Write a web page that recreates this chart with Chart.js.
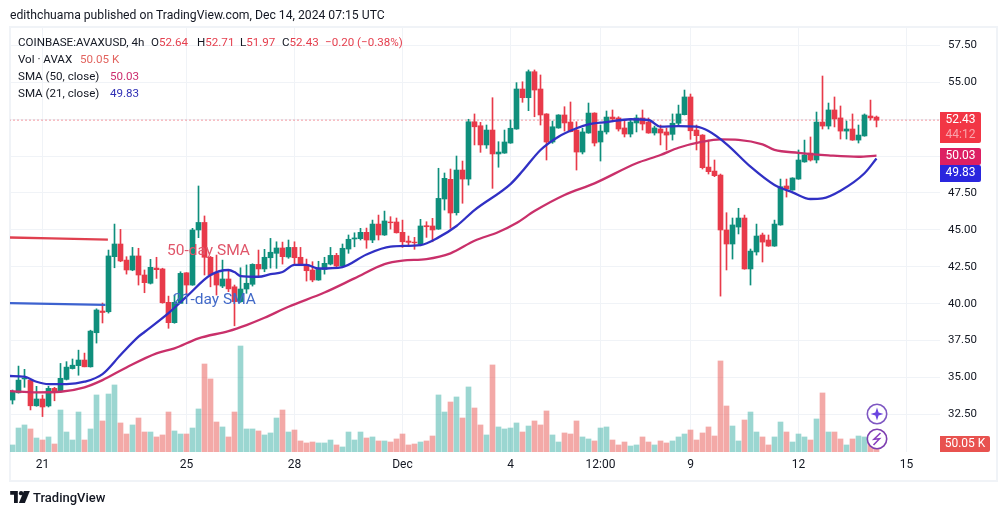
<!DOCTYPE html>
<html>
<head>
<meta charset="utf-8">
<title>AVAXUSD 4h</title>
<script src="https://cdn.jsdelivr.net/npm/chart.js@4"></script>
<style>
  html, body { margin: 0; padding: 0; background: #fff; }
  #wrap { position: relative; width: 1005px; height: 515px; overflow: hidden; font-family: Roboto, sans-serif; color: #131722; }
  #frame { position: absolute; left: 9px; top: 26px; width: 985px; height: 452px; border: 2px solid #f0f3f7; }
  canvas { position: absolute; left: 0; top: 0; }
  .t { position: absolute; white-space: pre; font-size: 11.6px; line-height: 14px; }
  .badge { position: absolute; left: 940px; width: 41px; color: #fff; text-align: center; font-size: 12px; line-height: 15px; border-radius: 0 2px 2px 0; }
  .r { color: #e5404f; }
</style>
</head>
<body>
<div id="wrap">
  <div id="frame"></div>
  <canvas id="chart" width="1005" height="515"></canvas>

  <div class="t" style="left:10px;top:8px;font-size:12.2px">edithchuama published on TradingView.com, Dec 14, 2024 07:15 UTC</div>
  <div class="t" style="left:18px;top:35px">COINBASE:AVAXUSD, 4h</div>
  <div class="t" style="left:151px;top:35px">O<span class="r">52.64</span></div>
  <div class="t" style="left:197px;top:35px">H<span class="r">52.71</span></div>
  <div class="t" style="left:240px;top:35px">L<span class="r">51.97</span></div>
  <div class="t" style="left:282px;top:35px">C<span class="r">52.43</span></div>
  <div class="t r" style="left:325px;top:35px">−0.20 (−0.38%)</div>
  <div class="t" style="left:18px;top:52px">Vol · AVAX</div>
  <div class="t" style="left:80px;top:52px;color:#e2645f">50.05 K</div>
  <div class="t" style="left:18px;top:69px">SMA (50, close)</div>
  <div class="t" style="left:110px;top:69px;color:#cc2d6e">50.03</div>
  <div class="t" style="left:18px;top:86px">SMA (21, close)</div>
  <div class="t" style="left:110px;top:86px;color:#3030b5">49.83</div>

  <div class="t" style="left:167px;top:241px;font-size:15.5px;line-height:18px;color:#e0566a">50-day SMA</div>
  <div class="t" style="left:173px;top:290px;font-size:15.5px;line-height:18px;color:#4169c8">21-day SMA</div>

  <div class="badge" style="top:112px;height:31px;background:#f23645">52.43<br><span style="color:#f9a5ac">44:12</span></div>
  <div class="badge" style="top:148px;height:17px;background:#dd1f63">50.03</div>
  <div class="badge" style="top:165px;height:17px;background:#2a26de">49.83</div>
  <div class="badge" style="top:436px;height:16px;width:50px;background:#e8524f">50.05 K</div>

  <svg style="position:absolute;left:866px;top:403px" width="22" height="48" viewBox="0 0 22 48">
    <circle cx="11" cy="11" r="9.7" fill="#fff" stroke="#7e57c2" stroke-width="1.6"/>
    <path d="M11 4.5 L12.6 9.4 L17.5 11 L12.6 12.6 L11 17.5 L9.4 12.6 L4.5 11 L9.4 9.4 Z" fill="#6a45e0"/>
    <circle cx="11" cy="36" r="9.7" fill="#fff" stroke="#7e3fb0" stroke-width="1.6"/>
    <path d="M14.5 30 L8 36.2 L13.5 35.8 L7.5 42" fill="none" stroke="#8a3fc0" stroke-width="1.6"/>
  </svg>

  <svg style="position:absolute;left:10px;top:491px" width="20" height="12" viewBox="0 0 36 22">
    <path d="M0 0 H14 V22 H7 V7 H0 Z" fill="#131722"/>
    <circle cx="20" cy="4" r="4" fill="#131722"/>
    <path d="M25 0 H36 L27 22 H16 Z" fill="#131722"/>
  </svg>
  <div class="t" style="left:33px;top:490px;font-size:13px;line-height:15px;font-weight:500">TradingView</div>
</div>

<script>
// 4h candles
const opens = [33.47,33.96,34.9,34.82,33.08,33.54,33.07,34.26,34.03,34.87,35.6,35.8,36.18,35.72,38.03,39.5,39.45,43.18,44.04,42.95,
  42.28,43.23,41.94,41.38,42.41,42.35,40.09,38.71,40.02,42.09,41.26,44.99,45.5,43.14,42.05,41.19,41.67,41.14,40.13,40.99,
  41.31,42.66,42.35,43.11,43.41,43.77,43.16,43.81,43.14,42.62,42.28,41.6,42.32,42.68,43.27,42.55,43.7,44.38,44.4,44.83,
  44.31,45.39,44.65,45.53,45.53,44.83,44.24,44.17,44.02,45.28,45.26,45.05,47.09,48.42,46.16,49.05,48.44,52.32,52.05,50.75,
  51.76,50.14,50.2,50.88,51.83,54.54,53.95,55.71,54.54,52.85,50.95,51.9,52.78,52.3,51.76,50.27,51.56,52.91,50.95,51.63,
  52.64,52.58,51.9,51.49,52.24,52.58,52.3,51.56,51.83,51.63,51.47,52.22,52.8,54.0,51.76,51.42,49.25,48.98,48.71,44.99,
  44.04,45.19,45.8,42.35,43.5,44.65,44.31,43.9,45.33,47.97,47.7,48.44,49.6,50.2,49.73,52.3,52.03,53.12,52.58,51.69,
  51.83,51.08,51.36,52.71,52.64];
const highs = [34.15,35.77,35.55,34.85,34.4,33.8,34.4,34.33,35.95,36.07,36.25,36.85,36.65,38.2,39.65,40.04,43.63,45.39,45.03,43.18,
  43.81,43.75,42.28,43.0,43.14,42.4,40.51,40.58,42.16,42.1,45.1,47.97,45.94,43.2,43.29,42.95,42.28,41.26,42.43,42.62,
  42.7,43.63,43.68,44.42,44.19,44.17,44.31,44.19,43.81,43.02,42.84,42.87,43.14,43.81,43.41,44.04,44.65,44.8,45.1,45.12,
  45.66,46.0,46.27,45.89,45.8,45.66,44.58,44.49,45.71,45.55,45.78,49.17,48.85,49.12,50.0,49.66,52.49,52.85,52.28,52.1,
  53.95,50.97,51.76,52.44,54.97,55.03,55.83,55.83,55.49,52.87,52.37,52.8,53.34,53.66,52.32,51.88,53.59,52.93,52.1,53.05,
  53.12,52.66,52.44,52.44,52.78,53.12,52.58,52.03,52.1,51.9,52.85,53.45,54.47,54.2,52.1,51.45,51.08,49.73,48.78,46.16,
  45.8,46.46,46.0,43.7,45.39,44.78,44.65,45.66,48.44,48.44,48.53,50.41,51.08,51.29,52.98,55.42,53.59,54.0,53.39,52.37,
  52.85,52.1,52.85,53.79,52.71];
const lows = [33.2,33.94,34.33,32.8,33.05,32.35,33.0,33.42,34.0,34.83,35.57,35.15,35.72,35.7,37.33,38.69,39.36,42.43,42.84,42.0,
  42.23,41.26,40.74,41.33,41.71,40.03,38.33,38.67,40.0,40.58,41.24,44.47,41.94,41.14,40.58,41.08,40.81,38.5,40.09,40.7,
  41.19,41.82,42.16,42.41,42.39,42.68,43.07,42.62,42.6,41.53,41.48,41.58,42.0,42.62,42.5,42.5,43.41,43.85,44.31,43.75,
  44.13,44.31,44.62,45.05,44.78,43.81,43.97,43.68,43.92,44.49,44.19,45.03,46.34,45.1,46.0,46.8,48.03,50.75,50.25,50.52,
  47.81,49.24,50.18,50.86,51.81,53.64,53.07,52.66,52.1,49.73,50.86,51.88,51.69,51.63,49.05,50.14,51.54,50.68,49.66,51.49,
  52.32,51.69,51.29,51.29,51.63,51.76,51.54,51.42,50.75,50.41,51.08,52.1,52.78,51.13,50.41,49.12,48.78,48.6,40.51,42.28,
  43.02,44.72,42.33,41.26,43.29,42.82,43.88,43.88,45.31,47.22,47.68,48.42,49.58,49.66,49.53,51.83,51.83,51.97,51.15,51.15,
  51.06,50.88,51.34,52.44,51.97];
const closes = [34.01,34.82,34.95,33.08,33.54,33.0,34.26,34.0,34.94,35.7,35.83,36.18,35.72,38.14,39.57,39.4,43.23,44.04,42.89,42.28,
  43.23,41.94,41.42,42.46,42.3,40.06,38.71,40.09,42.05,41.26,44.99,45.5,43.14,41.94,41.26,41.67,41.0,40.13,40.99,41.38,
  42.66,42.35,43.14,43.48,43.77,43.18,43.81,43.11,42.62,42.23,41.6,42.39,42.73,43.27,42.55,43.75,44.36,44.45,44.83,44.31,
  45.39,44.65,45.6,45.48,44.8,44.19,44.15,44.12,45.26,45.21,44.99,47.13,48.49,46.14,49.05,48.44,52.32,51.98,50.75,51.76,
  50.14,50.27,50.95,51.88,54.54,53.95,55.71,54.47,52.78,50.95,51.98,52.78,52.24,51.65,50.27,51.63,52.91,50.88,51.69,52.64,
  52.51,51.83,51.49,52.3,52.58,52.17,51.56,51.9,51.56,51.42,52.22,52.85,54.0,51.71,51.38,49.21,48.94,48.67,44.99,44.04,
  45.33,45.8,42.35,43.56,44.58,44.17,43.9,45.39,47.92,47.77,48.51,49.73,50.07,49.73,52.3,52.03,53.12,52.51,51.69,51.83,
  51.08,51.42,52.78,52.58,52.43];
// volume in thousands
const volumes = [88,300,338,288,175,150,188,100,525,250,150,500,150,288,713,388,725,838,363,225,
  338,425,250,250,188,213,500,263,225,225,300,538,1100,913,375,313,188,500,1325,288,
  288,263,213,238,425,525,250,275,138,113,125,113,113,150,88,63,250,150,250,175,
  188,138,138,125,163,225,88,100,125,138,200,713,500,625,688,425,813,550,338,213,
  1088,313,288,300,363,250,325,388,338,513,213,125,238,225,388,188,163,138,300,313,
  150,88,125,75,88,188,125,88,138,113,138,188,225,275,150,238,313,200,1138,575,
  325,138,400,500,250,188,88,188,375,250,125,225,188,150,413,738,250,250,163,88,
  163,200,188,113,50.05];

// moving averages, sampled along the drawn lines (candle number, price)
const sma21Index = [-0.5,2,4,6,9,12,15,18,21,22,26,29,33,36,37,38,41,43,45,47,49,51,55,59,63,68,71,74,77,83,85,88,91,94,96,99,103,106,108,111,114,116,119,123,127,130,133,135,138,142,144];
const sma21Values = [35.1,35.05,34.71,34.55,34.55,34.71,35.23,36.52,37.76,38.08,39.36,40.47,41.94,42.28,42.14,41.87,41.82,42.0,42.14,42.62,42.62,42.38,42.48,43.33,43.86,43.97,44.49,45.26,46.34,48.1,48.98,50.41,51.31,51.88,52.15,52.3,52.49,52.44,51.99,52.03,51.99,51.69,50.81,49.28,48.04,47.54,47.09,47.13,47.65,48.83,49.83];
const sma50Index = [-0.5,4,8,12,15,19,24,27,31,36,39,42,46,52,57,62,65,69,73,77,81,84,87,92,97,104,108,111,115,118,121,125,127,131,136,141,144];
const sma50Values = [34.08,33.99,34.03,34.33,34.82,35.68,36.63,36.97,37.65,38.14,38.55,39.04,39.79,40.75,41.71,42.68,42.92,43.02,43.41,44.26,44.85,45.46,46.27,47.36,48.15,49.51,50.07,50.56,50.97,51.13,51.1,50.79,50.41,50.22,50.05,49.95,50.03];

// the two short lines the author drew next to the labels
const note50Index = [-0.5, 15.9];
const note50Values = [44.48, 44.34];
const note21Index = [-0.5, 15.5];
const note21Values = [40.04, 39.91];

const lastPrice = 52.43;

const timeTicks = [5, 29, 47, 65, 83, 98, 113, 131, 149];
const timeLabels = ['21', '25', '28', 'Dec', '4', '12:00', '9', '12', '15'];
const priceTicks = [57.5, 55, 52.5, 50, 47.5, 45, 42.5, 40, 37.5, 35, 32.5];
const priceLabels = ['57.50', '55.00', '', '', '47.50', '45.00', '42.50', '40.00', '37.50', '35.00', '32.50'];

const upColor = '#0f8f7c';
const downColor = '#e83a4a';
const gridColor = '#f0f3f7';

const candleColors = opens.map((o, i) => closes[i] >= o ? upColor : downColor);
const volumeColors = opens.map((o, i) => closes[i] >= o ? 'rgba(38,166,154,0.46)' : 'rgba(232,83,80,0.5)');

function toPoints(xs, ys) {
    return xs.map((x, i) => ({ x: x, y: ys[i] }));
}

function lineSet(points, color, order) {
    return {
        type: 'line',
        data: points,
        borderColor: color,
        borderWidth: 2.3,
        pointRadius: 0,
        cubicInterpolationMode: 'monotone',
        yAxisID: 'y',
        order: order
    };
}

const ctx = document.getElementById('chart').getContext('2d');

new Chart(ctx, {
    type: 'bar',
    data: {
        datasets: [
            {
                data: volumes.map((v, i) => ({ x: i, y: v })),
                backgroundColor: volumeColors,
                barThickness: 5,
                grouped: false,
                yAxisID: 'yVol',
                order: 6
            },
            {
                type: 'line',
                data: [{ x: -0.5, y: lastPrice }, { x: 155, y: lastPrice }],
                borderColor: downColor,
                borderWidth: 1,
                borderDash: [1, 3],
                pointRadius: 0,
                yAxisID: 'y',
                order: 5
            },
            {
                data: highs.map((h, i) => ({ x: i, y: [lows[i], h] })),
                backgroundColor: candleColors,
                barThickness: 1,
                grouped: false,
                yAxisID: 'y',
                order: 4
            },
            {
                data: opens.map((o, i) => ({ x: i, y: [o, closes[i]] })),
                backgroundColor: candleColors,
                barThickness: 5,
                grouped: false,
                yAxisID: 'y',
                order: 3
            },
            lineSet(toPoints(sma50Index, sma50Values), '#c9306a', 2),
            lineSet(toPoints(sma21Index, sma21Values), '#3030c4', 1),
            lineSet(toPoints(note50Index, note50Values), '#e0404f', 2),
            lineSet(toPoints(note21Index, note21Values), '#3d62cf', 2)
        ]
    },
    options: {
        responsive: false,
        animation: false,
        layout: { padding: { left: 10, top: 27, right: 10, bottom: 35 } },
        plugins: { legend: { display: false }, tooltip: { enabled: false } },
        scales: {
            x: {
                type: 'linear',
                offset: false,
                min: -0.4167,
                max: 154.5833,
                grid: { color: gridColor, offset: false, drawTicks: false, tickLength: 0 },
                border: { display: false },
                afterBuildTicks: (axis) => { axis.ticks = timeTicks.map(v => ({ value: v })); },
                afterFit: (axis) => { axis.height = 28; },
                ticks: {
                    autoSkip: false,
                    maxRotation: 0,
                    padding: 6,
                    color: '#131722',
                    font: { family: 'Roboto', size: 12 },
                    callback: (v) => timeLabels[timeTicks.indexOf(v)]
                }
            },
            y: {
                type: 'linear',
                position: 'right',
                min: 29.95,
                max: 58.74,
                beginAtZero: false,
                grid: { color: gridColor, drawTicks: false, tickLength: 0 },
                border: { display: false },
                afterBuildTicks: (axis) => { axis.ticks = priceTicks.map(v => ({ value: v })); },
                afterFit: (axis) => { axis.width = 55; },
                ticks: {
                    autoSkip: false,
                    padding: 8,
                    crossAlign: 'near',
                    color: '#131722',
                    font: { family: 'Roboto', size: 11.5 },
                    callback: (v) => priceLabels[priceTicks.indexOf(v)]
                }
            },
            yVol: {
                type: 'linear',
                display: false,
                min: 0,
                max: 5312.5
            }
        }
    }
});
</script>
</body>
</html>
